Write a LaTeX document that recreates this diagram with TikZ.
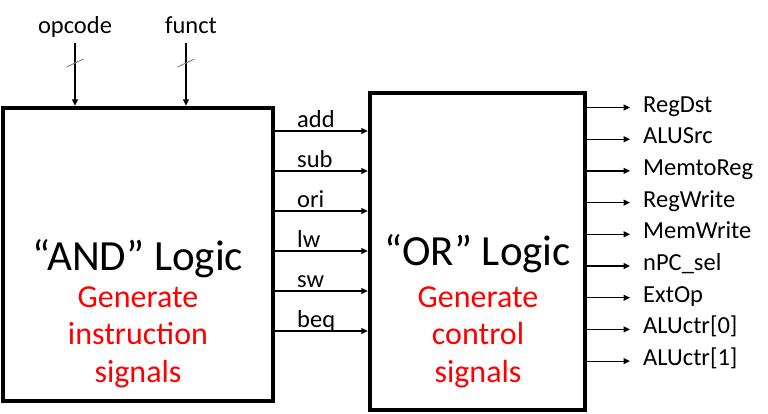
\documentclass[tikz,border=0pt]{standalone}
\usepackage{fontspec}
\setmainfont{Carlito}
\usetikzlibrary{arrows.meta}

\tikzset{
  logicbox/.style={draw, line width=4.5pt, inner sep=0pt},
  wire/.style={line width=1.2pt, -{Triangle[length=6.5pt,width=6pt]}},
  lbl/.style={font=\fontsize{24.5}{28}\selectfont, inner sep=0pt},
  title/.style={font=\fontsize{43}{48}\selectfont, inner sep=0pt},
  note/.style={text=red, font=\fontsize{32}{37.5}\selectfont, align=center, inner sep=0pt}
}

\begin{document}
\begin{tikzpicture}[x=1pt,y=-1pt]
\useasboundingbox (0,0) rectangle (768,413);

% Logic blocks
\node[logicbox, minimum width=270pt, minimum height=293pt] (andbox) at (138,254.5) {};
\node[logicbox, minimum width=215pt, minimum height=317pt] (orbox) at (477.5,251.5) {};

% Block texts
\node[title, anchor=base] (andtitle) at (138,270) {“AND” Logic};
\node[note, anchor=base] (andnote) at (138,382) {Generate\\instruction\\signals};
\node[title, anchor=base] (ortitle) at (478,265) {“OR” Logic};
\node[note, anchor=base] (ornote) at (478,382) {Generate\\control\\signals};

% Inputs from the top
\node[lbl, anchor=base] (opcode) at (75,33) {opcode};
\node[lbl, anchor=base] (funct) at (191,33) {funct};
\coordinate (opbus) at (75,43);
\coordinate (fnbus) at (186,43);
\draw[wire] (opbus) -- (opbus |- andbox.north);
\draw[wire] (fnbus) -- (fnbus |- andbox.north);

% Bus width slashes
\foreach \b in {opbus,fnbus}
{
\draw[gray, line width=0.9pt] ([shift={(-8.5,24)}]\b) -- ([shift={(8.5,16)}]\b);
}

% Instruction signals
\foreach \name [count=\i from 0] in {add,sub,ori,lw,sw,beq}
{
\coordinate (in\i) at (297,{131+40*\i});
\node[lbl, anchor=base west] (ins-\name) at ([yshift=4pt]in\i) {\name};
\draw[wire] (andbox.east |- in\i) -- (orbox.west |- in\i);
}

% Control signals
\foreach \name [count=\i from 0] in {RegDst,ALUSrc,MemtoReg,RegWrite,MemWrite,nPC\_sel,ExtOp,ALUctr[0],ALUctr[1]}
{
\coordinate (out\i) at (630,{107.5+31.7*\i});
\node[lbl, anchor=base west] (sig\i) at ([xshift=13pt,yshift=-4.5pt]out\i) {\name};
\draw[wire] (orbox.east |- out\i) -- (out\i);
}

\end{tikzpicture}
\end{document}
